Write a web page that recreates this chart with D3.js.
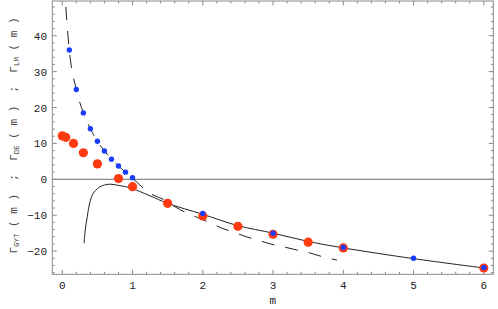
<!DOCTYPE html>
<html><head><meta charset="utf-8">
<script src="https://cdn.jsdelivr.net/npm/d3@7"></script>
<style>body{margin:0;background:#fff}svg{display:block}</style>
</head><body>
<svg id="c" width="498" height="309"></svg>
<script>
// Γ_LM (blue points)
const lmX = [0.1,0.2,0.3,0.4,0.5,0.6,0.7,0.8,0.9,1.0,2,3,4,5,6];
const lmY = [36.0,25.0,18.5,14.1,10.6,7.9,5.6,3.7,2.0,0.45,-9.5,-15.0,-19.0,-22.0,-24.6];
// Γ_DE (red points)
const deX = [0.0,0.05,0.16,0.3,0.5,0.8,1.0,1.5,2.0,2.5,3.0,3.5,4.0,6.0];
const deY = [12.1,11.7,10.0,7.4,4.3,0.2,-2.05,-6.7,-10.2,-13.1,-15.3,-17.5,-19.1,-24.7];
// Γ_GYT (solid curve)
const gytX = [0.31,0.33,0.356,0.39,0.44,0.5,0.54,0.6,0.68,0.8,0.9,1.0,1.25,1.5,2.0,2.5,3.0,3.5,4.0,5.0,6.0];
const gytY = [-17.8,-13.6,-10.4,-6.6,-3.9,-2.6,-2.05,-1.6,-1.35,-1.7,-2.05,-2.6,-4.6,-6.7,-9.75,-12.9,-15.0,-17.3,-19.1,-22.1,-24.7];
// Γ_LM fit (dashed curve)
const fitX = [0.05,0.1,0.2,0.3,0.4,0.5,0.6,0.7,0.8,0.9,1.0,1.1,1.25,1.44,1.6,1.75,1.92,2.08,2.27,2.45,2.62,2.81,2.98,3.17,3.34,3.54,3.71,3.91];
const fitY = [48.0,36.0,25.0,18.5,14.1,10.6,7.9,5.6,3.7,2.0,0.3,-1.5,-3.9,-5.6,-7.6,-9.2,-10.6,-11.9,-13.6,-14.8,-16.0,-17.1,-18.1,-18.9,-19.7,-20.6,-21.6,-22.5];
const xTicks = [0,1,2,3,4,5,6];
const yTicks = [-20,-10,0,10,20,30,40];

const svg = d3.select("#c");
const L = 52.3, R = 493.3, T = 1, B = 274.3;
const x = d3.scaleLinear().domain([-0.142, 6.135]).range([L, R]);
const y = d3.scaleLinear().domain([-26.46, 49.67]).range([B, T]);
const font = "'Liberation Mono', 'DejaVu Sans Mono', monospace";
const frameCol = "#8a8a8a";

// zero line
svg.append("line").attr("x1", L).attr("x2", R).attr("y1", y(0)).attr("y2", y(0))
  .attr("stroke", "#707070").attr("stroke-width", 1);

// frame
svg.append("rect").attr("x", L).attr("y", T).attr("width", R - L).attr("height", B - T)
  .attr("fill", "none").attr("stroke", frameCol).attr("stroke-width", 1);

// ticks
const xMinor = d3.range(0, 6.15, 0.2).filter(v => Math.abs(v - Math.round(v)) > 1e-6);
const yMinor = d3.range(-26, 50, 2).filter(v => v % 10 !== 0);
const tk = svg.append("g").attr("stroke", frameCol).attr("stroke-width", 1);
function vt(v, len) {
  tk.append("line").attr("x1", x(v)).attr("x2", x(v)).attr("y1", B).attr("y2", B - len);
  tk.append("line").attr("x1", x(v)).attr("x2", x(v)).attr("y1", T).attr("y2", T + len);
}
function ht(v, len) {
  tk.append("line").attr("y1", y(v)).attr("y2", y(v)).attr("x1", L).attr("x2", L + len);
  tk.append("line").attr("y1", y(v)).attr("y2", y(v)).attr("x1", R).attr("x2", R - len);
}
xTicks.forEach(v => vt(v, 4.5));
xMinor.forEach(v => vt(v, 2.5));
yTicks.forEach(v => ht(v, 4.5));
yMinor.forEach(v => ht(v, 2.5));

// tick labels
svg.append("g").selectAll("text").data(xTicks).join("text")
  .attr("x", d => x(d)).attr("y", 288.5).attr("text-anchor", "middle")
  .attr("font-family", font).attr("font-size", 11).attr("fill", "#222")
  .text(d => d);
svg.append("g").selectAll("text").data(yTicks).join("text")
  .attr("x", 47).attr("y", d => y(d) + 4).attr("text-anchor", "end")
  .attr("font-family", font).attr("font-size", 11).attr("fill", "#222")
  .text(d => d < 0 ? "\u2212" + Math.abs(d) : d);

// axis labels
svg.append("text").attr("x", (L + R) / 2).attr("y", 303.5).attr("text-anchor", "middle")
  .attr("font-family", font).attr("font-size", 11).attr("fill", "#222").text("m");

const yl = svg.append("text").attr("transform", "translate(17,135.5) rotate(-90)")
  .attr("text-anchor", "middle").attr("font-family", font).attr("font-size", 11)
  .attr("fill", "#444").style("white-space", "pre");
const parts = [["GYT", " ( m )  ;  "], ["DE", " ( m )  ;  "], ["LM", " ( m )"]];
parts.forEach(([s, rest]) => {
  yl.append("tspan").text("\u0393");
  yl.append("tspan").attr("font-size", 7.5).attr("dy", 2).text(s);
  yl.append("tspan").attr("dy", -2).text(rest);
});

// curves
const toPts = (xs, ys) => xs.map((v, i) => [v, ys[i]]);
const line = d3.line().x(d => x(d[0])).y(d => y(d[1])).curve(d3.curveMonotoneX);
const smooth = d3.line().x(d => x(d[0])).y(d => y(d[1])).curve(d3.curveCatmullRom.alpha(0.5));
svg.append("path").attr("d", line(toPts(fitX, fitY))).attr("fill", "none")
  .attr("stroke", "#222").attr("stroke-width", 1).attr("stroke-dasharray", "13,11");
svg.append("path").attr("d", smooth(toPts(gytX, gytY))).attr("fill", "none")
  .attr("stroke", "#222").attr("stroke-width", 1);

// points
svg.append("g").selectAll("circle").data(toPts(deX, deY)).join("circle")
  .attr("cx", d => x(d[0])).attr("cy", d => y(d[1])).attr("r", 4.6).attr("fill", "#ff3a10");
svg.append("g").selectAll("circle").data(toPts(lmX, lmY)).join("circle")
  .attr("cx", d => x(d[0])).attr("cy", d => y(d[1])).attr("r", 2.7).attr("fill", "#1a3cff");
</script>
</body></html>
